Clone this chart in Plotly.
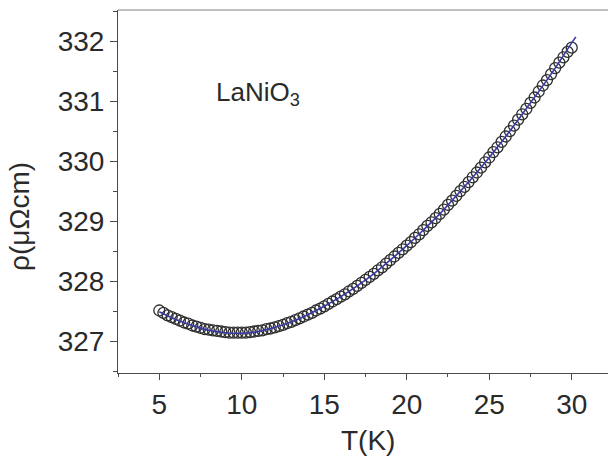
import plotly.graph_objects as go

# Measured data (open circles)
T_data = [5.00, 5.25, 5.50, 5.75, 6.00, 6.25, 6.50, 6.75, 7.00, 7.25, 7.50, 7.75,
          8.00, 8.25, 8.50, 8.75, 9.00, 9.25, 9.50, 9.75, 10.00, 10.25, 10.50, 10.75,
          11.00, 11.25, 11.50, 11.75, 12.00, 12.25, 12.50, 12.75, 13.00, 13.25, 13.50, 13.75,
          14.00, 14.25, 14.50, 14.75, 15.00, 15.25, 15.50, 15.75, 16.00, 16.25, 16.50, 16.75,
          17.00, 17.25, 17.50, 17.75, 18.00, 18.25, 18.50, 18.75, 19.00, 19.25, 19.50, 19.75,
          20.00, 20.25, 20.50, 20.75, 21.00, 21.25, 21.50, 21.75, 22.00, 22.25, 22.50, 22.75,
          23.00, 23.25, 23.50, 23.75, 24.00, 24.25, 24.50, 24.75, 25.00, 25.25, 25.50, 25.75,
          26.00, 26.25, 26.50, 26.75, 27.00, 27.25, 27.50, 27.75, 28.00, 28.25, 28.50, 28.75,
          29.00, 29.25, 29.50, 29.75, 30.00]
rho_data = [327.52, 327.48, 327.44, 327.41, 327.38, 327.35, 327.32, 327.30, 327.27, 327.25, 327.23, 327.21,
            327.20, 327.19, 327.18, 327.17, 327.16, 327.15, 327.15, 327.15, 327.15, 327.15, 327.16, 327.17,
            327.18, 327.19, 327.21, 327.22, 327.24, 327.26, 327.28, 327.31, 327.33, 327.36, 327.39, 327.42,
            327.45, 327.48, 327.52, 327.55, 327.59, 327.63, 327.67, 327.71, 327.75, 327.79, 327.84, 327.88,
            327.93, 327.98, 328.03, 328.08, 328.13, 328.19, 328.24, 328.30, 328.36, 328.42, 328.48, 328.54,
            328.60, 328.66, 328.73, 328.79, 328.86, 328.93, 328.99, 329.06, 329.13, 329.20, 329.28, 329.35,
            329.43, 329.51, 329.58, 329.66, 329.74, 329.82, 329.90, 329.99, 330.07, 330.16, 330.24, 330.33,
            330.42, 330.51, 330.60, 330.70, 330.79, 330.88, 330.98, 331.07, 331.17, 331.27, 331.36, 331.46,
            331.56, 331.65, 331.74, 331.83, 331.90]

# Fit curve (blue line)
T_fit = [5, 6, 7, 8, 9, 10, 11, 12, 13, 14, 15, 16, 17, 18, 19, 20, 21, 22, 23, 24, 25,
         26, 27, 28, 29, 30, 30.25]
rho_fit = [327.50, 327.37, 327.27, 327.19, 327.15, 327.14, 327.17, 327.24, 327.33, 327.45,
           327.59, 327.75, 327.93, 328.13, 328.36, 328.60, 328.86, 329.13, 329.43, 329.74,
           330.07, 330.42, 330.79, 331.17, 331.56, 331.98, 332.08]

x_ticks = [5, 10, 15, 20, 25, 30]
y_ticks = [327, 328, 329, 330, 331, 332]

FONT = "Liberation Sans, Arial, sans-serif"
TXT = "#2a2a2a"

fig = go.Figure()
fig.add_trace(go.Scatter(
    x=T_data, y=rho_data, mode="markers",
    marker=dict(symbol="circle-open", size=11, color="#2e2e2e", line=dict(width=1.3)),
    showlegend=False, hoverinfo="skip"))
fig.add_trace(go.Scatter(
    x=T_fit, y=rho_fit, mode="lines", line=dict(color="#3a3aa6", width=1.6, shape="spline"),
    showlegend=False, hoverinfo="skip"))

axis_common = dict(
    showgrid=False, zeroline=False, showline=True, linecolor="#4a4a4a", linewidth=1,
    ticks="outside", tickcolor="#4a4a4a", tickwidth=1,
    tickfont=dict(family=FONT, size=28, color=TXT),
)
fig.update_xaxes(range=[2.496, 32.2], tickvals=x_ticks, ticklen=6,
                 minor=dict(dtick=2.5, tick0=0, ticks="outside", ticklen=3, tickcolor="#4a4a4a"),
                 **axis_common)
fig.update_yaxes(range=[326.478, 332.528], tickvals=y_ticks, ticklen=7,
                 minor=dict(dtick=0.5, tick0=0, ticks="outside", ticklen=4, tickcolor="#4a4a4a"),
                 **axis_common)

fig.add_shape(type="line", xref="paper", yref="paper", x0=0, x1=1, y0=1, y1=1,
              line=dict(color="#aaaaaa", width=1.5))

fig.add_annotation(text="LaNiO<sub>3</sub>", xref="paper", yref="paper",
                   x=0.196, y=0.769, xanchor="left", yanchor="middle", showarrow=False,
                   font=dict(family=FONT, size=26, color=TXT))
fig.add_annotation(text="T(K)", xref="paper", yref="paper",
                   x=0.51, y=-0.185, xanchor="center", yanchor="middle", showarrow=False,
                   font=dict(family=FONT, size=28, color=TXT))
fig.add_annotation(text="ρ(μΩcm)", xref="paper", yref="paper", textangle=-90,
                   x=-0.2, y=0.43, xanchor="center", yanchor="middle", showarrow=False,
                   font=dict(family=FONT, size=28, color=TXT))

fig.update_layout(
    width=608, height=456, autosize=False,
    margin=dict(l=118, r=0, t=10, b=83),
    paper_bgcolor="white", plot_bgcolor="white",
)

fig.write_html("out.html")
